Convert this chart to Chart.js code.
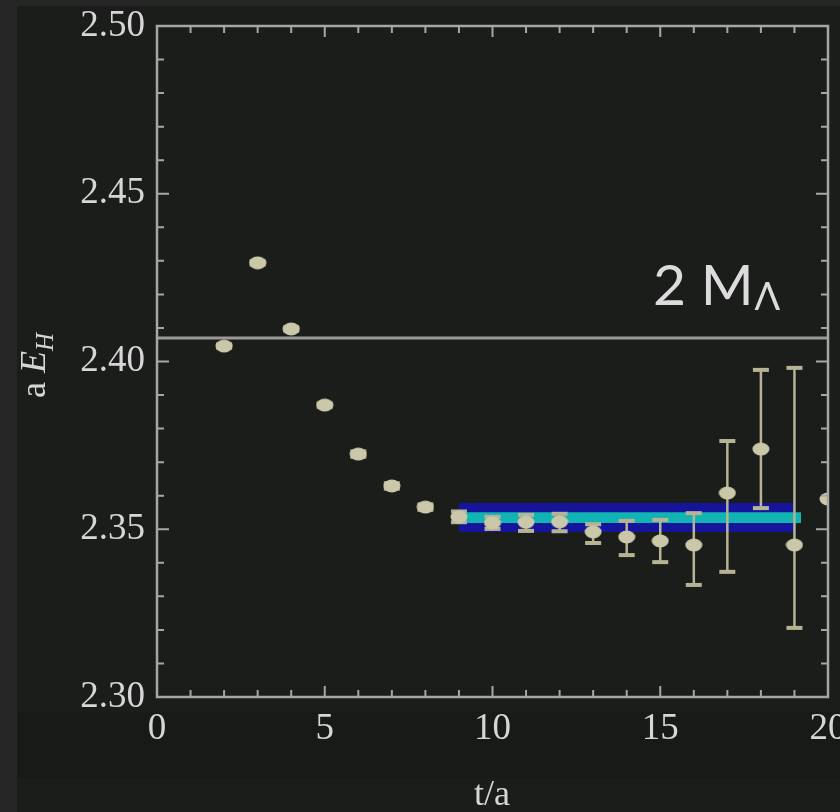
<!DOCTYPE html>
<html>
<head>
<meta charset="utf-8">
<script src="https://cdn.jsdelivr.net/npm/chart.js@4"></script>
<style>
  html, body { margin: 0; padding: 0; background: #1a1d1a; }
  canvas { display: block; }
</style>
</head>
<body>
<canvas id="energyPlot" width="840" height="812"></canvas>
<script>
// effective energy vs t/a
var tValues = [2, 3, 4, 5, 6, 7, 8, 9, 10, 11, 12, 13, 14, 15, 16, 17, 18, 19, 20];
var energy  = [2.4046, 2.4294, 2.4097, 2.3870, 2.3724, 2.3629, 2.3566, 2.3537, 2.3519, 2.3521, 2.3522,
               2.3492, 2.3477, 2.3465, 2.3453, 2.3608, 2.3739, 2.3453, 2.3590];
var errUp   = [0.0005, 0.0005, 0.0005, 0.0005, 0.0008, 0.0008, 0.0008, 0.0016, 0.0018, 0.0022, 0.0024,
               0.0023, 0.0048, 0.0063, 0.0095, 0.0155, 0.0236, 0.0528, 0];
var errDown = [0.0005, 0.0005, 0.0005, 0.0005, 0.0008, 0.0008, 0.0008, 0.0016, 0.0018, 0.0026, 0.0028,
               0.0033, 0.0054, 0.0063, 0.0119, 0.0235, 0.0176, 0.0247, 0];

// fit band (outer = blue error band, inner = cyan central value)
var bandOuterT = [9, 19];
var bandOuter  = [2.3492, 2.3578];
var bandInnerT = [9, 19.2];
var bandInner  = [2.3519, 2.3551];

// 2 M_Lambda threshold
var thresholdT = [0, 20];
var threshold = 2.4070;

var xTicks = [0, 5, 10, 15, 20];
var yTicks = [2.30, 2.35, 2.40, 2.45, 2.50];

var axisColor = '#a6a6a6';
var labelColor = '#d6d6d6';
var labelFont = '"Liberation Serif", "DejaVu Serif", serif';

function makeDot() {
    var c = document.createElement('canvas');
    c.width = 18; c.height = 14;
    var g = c.getContext('2d');
    g.fillStyle = '#cac8a8';
    g.beginPath();
    g.ellipse(9, 7, 8.5, 6.5, 0, 0, Math.PI * 2);
    g.fill();
    return c;
}

function hLine(ts, v) {
    return ts.map(function (t) { return { x: t, y: v }; });
}

// background strips like the screenshot
var background = {
    id: 'background',
    beforeDraw: function (chart) {
        var ctx = chart.ctx;
        ctx.save();
        ctx.fillStyle = '#1a1d1a';
        ctx.fillRect(0, 0, chart.width, chart.height);
        ctx.fillStyle = '#171a17';
        ctx.fillRect(0, 712, chart.width, 66);
        ctx.fillStyle = '#262626';
        ctx.fillRect(0, 0, chart.width, 6);
        ctx.fillRect(0, 0, 17, chart.height);
        ctx.restore();
    }
};

// vertical error bars with caps, drawn just before the points
var errorBars = {
    id: 'errorBars',
    beforeDatasetDraw: function (chart, args) {
        if (args.index !== 0) return;
        var ctx = chart.ctx, area = chart.chartArea;
        var x = chart.scales.x, y = chart.scales.y;
        ctx.save();
        ctx.beginPath();
        ctx.rect(area.left, area.top, area.right - area.left, area.bottom - area.top);
        ctx.clip();
        ctx.strokeStyle = '#b6b494';
        ctx.fillStyle = '#b6b494';
        ctx.lineWidth = 2.5;
        for (var i = 0; i < tValues.length; i++) {
            var px = x.getPixelForValue(tValues[i]);
            var top = y.getPixelForValue(energy[i] + errUp[i]);
            var bot = y.getPixelForValue(energy[i] - errDown[i]);
            ctx.beginPath();
            ctx.moveTo(px, top);
            ctx.lineTo(px, bot);
            ctx.stroke();
            ctx.fillRect(px - 8, top - 2, 16, 4);
            ctx.fillRect(px - 8, bot - 2, 16, 4);
        }
        ctx.restore();
    }
};

// box with inward ticks on all four sides, plus the text
var frame = {
    id: 'frame',
    afterDatasetsDraw: function (chart) {
        var ctx = chart.ctx, a = chart.chartArea;
        var x = chart.scales.x, y = chart.scales.y;
        ctx.save();
        ctx.strokeStyle = axisColor;
        ctx.lineWidth = 2.5;
        ctx.strokeRect(a.left, a.top, a.right - a.left, a.bottom - a.top);
        ctx.lineWidth = 2;
        ctx.beginPath();
        for (var t = 0; t <= 20; t++) {
            var px = x.getPixelForValue(t);
            var len = (t % 5 === 0) ? 11 : 7;
            ctx.moveTo(px, a.bottom); ctx.lineTo(px, a.bottom - len);
            ctx.moveTo(px, a.top); ctx.lineTo(px, a.top + len);
        }
        for (var k = 0; k <= 20; k++) {
            var py = y.getPixelForValue(2.30 + k * 0.01);
            var l2 = (k % 5 === 0) ? 12 : 7;
            ctx.moveTo(a.left, py); ctx.lineTo(a.left + l2, py);
            ctx.moveTo(a.right, py); ctx.lineTo(a.right - l2, py);
        }
        ctx.stroke();
        ctx.restore();
    },
    afterDraw: function (chart) {
        var ctx = chart.ctx;
        ctx.save();
        ctx.fillStyle = labelColor;
        // x title
        ctx.font = '36px ' + labelFont;
        ctx.textAlign = 'center';
        ctx.textBaseline = 'alphabetic';
        ctx.fillText('t/a', 492, 805);
        // y title, rotated
        ctx.translate(45, 398);
        ctx.rotate(-Math.PI / 2);
        ctx.textAlign = 'left';
        ctx.font = '36px ' + labelFont;
        ctx.fillText('a ', 0, 0);
        var w = ctx.measureText('a ').width;
        ctx.font = 'italic 36px ' + labelFont;
        ctx.fillText('E', w, 0);
        w += ctx.measureText('E').width;
        ctx.font = 'italic 25px ' + labelFont;
        ctx.fillText('H', w, 8);
        ctx.restore();

        // 2 M_Lambda label
        ctx.save();
        ctx.fillStyle = '#dcdcdc';
        ctx.textBaseline = 'alphabetic';
        ctx.font = '57px Lato, "Open Sans", sans-serif';
        ctx.fillText('2 M', 653, 305);
        var w2 = ctx.measureText('2 M').width;
        ctx.font = '38px Lato, "Open Sans", sans-serif';
        ctx.fillText('\u039B', 653 + w2 + 1, 310);
        ctx.restore();
    }
};

var ctx = document.getElementById('energyPlot').getContext('2d');
var chart = new Chart(ctx, {
    type: 'scatter',
    data: {
        datasets: [{
            label: 'E_eff',
            data: tValues.map(function (t, i) { return { x: t, y: energy[i] }; }),
            pointStyle: makeDot(),
            pointRadius: 8,
            order: 0
        }, {
            label: '2 M_Lambda',
            data: hLine(thresholdT, threshold),
            showLine: true,
            borderColor: '#9a9a9a',
            borderWidth: 3,
            pointRadius: 0,
            order: 1
        }, {
            label: 'fit centre top',
            data: hLine(bandInnerT, bandInner[1]),
            showLine: true,
            borderWidth: 0,
            pointRadius: 0,
            fill: '+1',
            backgroundColor: '#12b3b3',
            order: 2
        }, {
            label: 'fit centre bottom',
            data: hLine(bandInnerT, bandInner[0]),
            showLine: true,
            borderWidth: 0,
            pointRadius: 0,
            order: 3
        }, {
            label: 'fit band top',
            data: hLine(bandOuterT, bandOuter[1]),
            showLine: true,
            borderWidth: 0,
            pointRadius: 0,
            fill: '+1',
            backgroundColor: '#15159c',
            order: 4
        }, {
            label: 'fit band bottom',
            data: hLine(bandOuterT, bandOuter[0]),
            showLine: true,
            borderWidth: 0,
            pointRadius: 0,
            order: 5
        }]
    },
    options: {
        responsive: false,
        animation: false,
        layout: { padding: { top: 26, right: 12, left: 0, bottom: 0 } },
        plugins: {
            legend: { display: false },
            tooltip: { enabled: false }
        },
        scales: {
            x: {
                type: 'linear',
                min: 0, max: 20,
                afterBuildTicks: function (scale) {
                    scale.ticks = xTicks.map(function (v) { return { value: v }; });
                },
                afterFit: function (scale) {
                    scale.height = 115;
                    scale.paddingLeft = 0;
                    scale.paddingRight = 0;
                },
                grid: { display: false },
                border: { display: false },
                ticks: {
                    color: labelColor,
                    font: { family: labelFont, size: 37 },
                    padding: 2,
                    maxRotation: 0,
                    autoSkip: false
                }
            },
            y: {
                type: 'linear',
                min: 2.30, max: 2.50,
                afterBuildTicks: function (scale) {
                    scale.ticks = yTicks.map(function (v) { return { value: v }; });
                },
                afterFit: function (scale) {
                    scale.width = 157;
                    scale.paddingTop = 0;
                    scale.paddingBottom = 0;
                },
                grid: { display: false },
                border: { display: false },
                ticks: {
                    color: labelColor,
                    font: { family: labelFont, size: 37 },
                    padding: 4,
                    autoSkip: false,
                    callback: function (v) { return v.toFixed(2); }
                }
            }
        }
    },
    plugins: [background, errorBars, frame]
});
</script>
</body>
</html>
